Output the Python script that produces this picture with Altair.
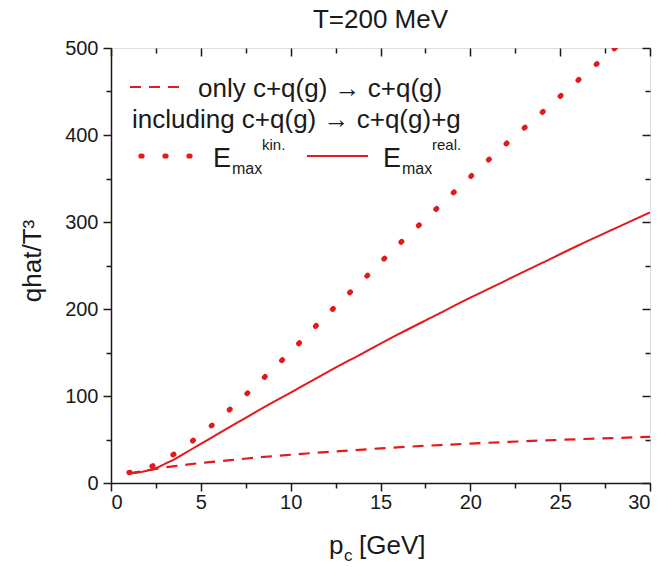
import altair as alt
import pandas as pd

# qhat/T^3 of a charm quark versus its momentum, T = 200 MeV
p_el = [1, 2, 3, 4, 5, 6, 8, 10, 13, 15, 18.3, 20, 25, 30]
q_el = [11, 14.5, 18, 20.5, 23, 25, 29, 32.5, 37, 39.8, 43.6, 45.3, 49.6, 53]

p_kin = [1, 2, 3, 4, 5, 6, 7, 8, 10, 12, 14, 16, 18, 20, 22, 24, 26, 28, 30]
q_kin = [12, 17, 27, 40, 56, 73, 92, 111, 151, 193, 233, 274, 313, 352, 390, 426, 463, 499, 535]

p_real = [1, 1.5, 2, 2.5, 3, 3.5, 4, 5, 6, 7, 8, 10, 12, 14, 16, 18, 20, 22, 24, 26, 28, 30]
q_real = [11, 12, 14, 17, 22, 27, 33, 45, 57, 69, 81, 104, 127, 149, 171, 192, 213, 233, 253, 273, 292, 311]

x_major = [0, 5, 10, 15, 20, 25, 30]
x_minor = [2.5, 7.5, 12.5, 17.5, 22.5, 27.5]
y_major = [0, 100, 200, 300, 400, 500]
y_minor = [50, 150, 250, 350, 450]

title_text = "T=200 MeV"
y_title = "qhat/T³"
leg_row1 = "only c+q(g) → c+q(g)"
leg_row2 = "including c+q(g) → c+q(g)+g"

RED = "#e31a1c"
FONT = "Liberation Sans"
W, H = 539, 435
DOTS = dict(strokeWidth=5.2, strokeDash=[1, 23], strokeCap="round")
DASH = dict(strokeWidth=2.2, strokeDash=[11, 8])

df_el = pd.DataFrame({"p": p_el, "q": q_el})
df_kin = pd.DataFrame({"p": p_kin, "q": q_kin})
df_real = pd.DataFrame({"p": p_real, "q": q_real})

xs = alt.Scale(domain=[0, 30], nice=False, zero=False)
ys = alt.Scale(domain=[0, 500], nice=False, zero=False)

common_axis = dict(grid=False, tickColor="#1a1a1a", tickWidth=1.5, domainColor="#1a1a1a",
                   domainWidth=1.5, labelFont=FONT, labelFontSize=20, labelColor="#1a1a1a", title=None)


def ax(orient, values, size, labels=False, inward=False, domain=False, **kw):
    return alt.Axis(orient=orient, values=values, tickSize=size, labels=labels, domain=domain,
                    offset=-size if inward else 0, **common_axis, **kw)


# dashed: elastic only (carries bottom/left major axes)
elastic = alt.Chart(df_el).mark_line(color=RED, interpolate="monotone", clip=True, **DASH).encode(
    x=alt.X("p:Q", scale=xs, axis=ax("bottom", x_major, 8, labels=True, domain=True, labelPadding=1)),
    y=alt.Y("q:Q", scale=ys, axis=ax("left", y_major, 8, labels=True, domain=True, labelPadding=5)),
)

# dotted: radiative with kinematic E_max (bottom/left minor ticks)
kin = alt.Chart(df_kin).mark_line(color=RED, interpolate="monotone", clip=True, **DOTS).encode(
    x=alt.X("p:Q", scale=xs, axis=ax("bottom", x_minor, 5)),
    y=alt.Y("q:Q", scale=ys, axis=ax("left", y_minor, 5)),
)

# solid: radiative with realistic E_max (top/right major ticks, inward)
real = alt.Chart(df_real).mark_line(color=RED, strokeWidth=2, interpolate="monotone", clip=True).encode(
    x=alt.X("p:Q", scale=xs, axis=ax("top", x_major, 8, inward=True)),
    y=alt.Y("q:Q", scale=ys, axis=ax("right", y_major, 8, inward=True)),
)

# invisible layer carrying the top/right minor ticks
minor = alt.Chart(df_real).mark_point(opacity=0).encode(
    x=alt.X("p:Q", scale=xs, axis=ax("top", x_minor, 5, inward=True)),
    y=alt.Y("q:Q", scale=ys, axis=ax("right", y_minor, 5, inward=True)),
)

one = pd.DataFrame({"k": [0]})


def txt(text, x, y, size, align="left", angle=0, baseline="alphabetic"):
    return alt.Chart(one).mark_text(text=text, font=FONT, fontSize=size, color="#1a1a1a", align=align,
                                    baseline=baseline, angle=angle).encode(x=alt.value(x), y=alt.value(y))


def sample(x1, x2, y, **style):
    return alt.Chart(one).mark_rule(color=RED, **style).encode(x=alt.value(x1), x2=alt.value(x2), y=alt.value(y))


labels = [
    txt(title_text, W / 2, -20, 26, align="center"),
    txt(y_title, -70, 213, 26, align="center", angle=270),
    txt("p", 218, 506, 26),
    txt("c", 233, 513, 17),
    txt("[GeV]", 248, 506, 26),
    # legend
    sample(19, 72, 39, **DASH),
    txt(leg_row1, 87, 49, 26),
    txt(leg_row2, 21, 80, 26),
    sample(30, 80, 108, **DOTS),
    txt("E", 102, 119, 27),
    txt("max", 121, 126, 16),
    txt("kin.", 151, 102, 15),
    sample(196, 257, 108, strokeWidth=2),
    txt("E", 272, 119, 27),
    txt("max", 291, 126, 16),
    txt("real.", 321, 102, 15),
]

chart = alt.layer(elastic, kin, real, minor, *labels).resolve_axis(
    x="independent", y="independent"
).properties(
    width=W, height=H,
    autosize=alt.AutoSizeParams(type="none"),
    padding={"left": 111, "top": 48, "right": 14, "bottom": 84},
).configure_view(stroke="#1a1a1a", strokeWidth=1.5).configure(background="white")

chart.save("out.html", embed_options={"renderer": "svg", "actions": False})
